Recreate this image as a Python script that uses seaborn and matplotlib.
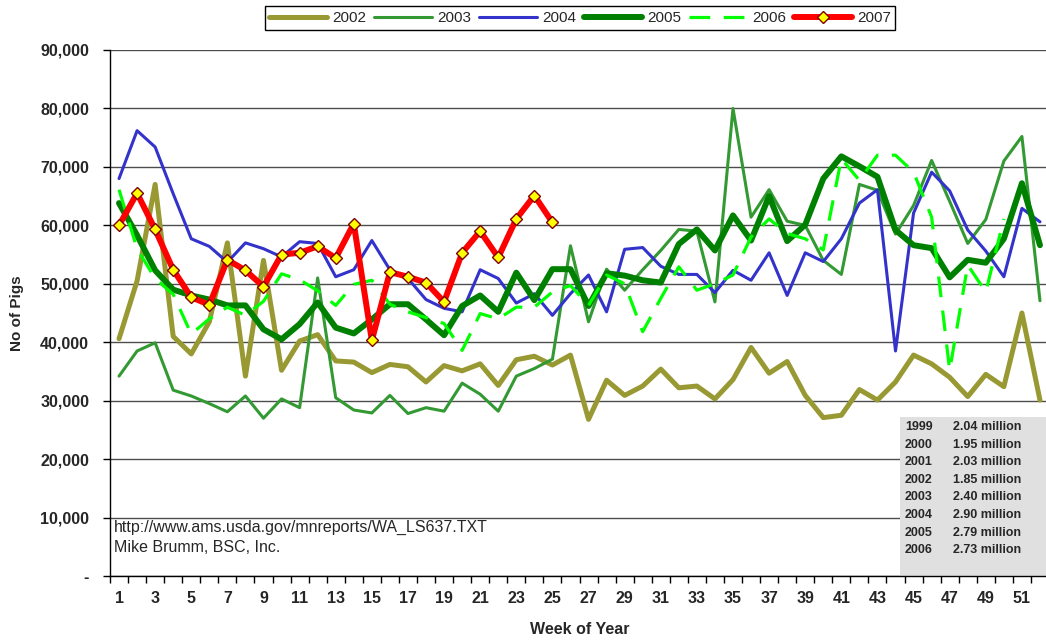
import numpy as np
import pandas as pd
import matplotlib
matplotlib.use("Agg")
import matplotlib.pyplot as plt
from matplotlib.patches import Rectangle
import seaborn as sns

weeks = list(range(1, 53))

y2002 = [40600, 50500, 67000, 41000, 38000, 43500, 57000, 34200, 54000, 35200,
         40200, 41300, 36800, 36600, 34800, 36200, 35800, 33200, 36000, 35100,
         36300, 32600, 37000, 37600, 36100, 37800, 26800, 33500, 30900, 32500,
         35400, 32200, 32500, 30300, 33600, 39100, 34700, 36700, 30900, 27100,
         27500, 31900, 30100, 33200, 37800, 36300, 34000, 30700, 34500, 32400,
         45000, 30100]
y2003 = [34200, 38500, 39900, 31800, 30800, 29500, 28100, 30800, 27000, 30300,
         28800, 51000, 30500, 28400, 27900, 30900, 27800, 28800, 28200, 33000,
         31100, 28200, 34200, 35500, 37100, 56500, 43500, 52500, 48900, 52400,
         55700, 59300, 59000, 46900, 80000, 61400, 66100, 60700, 60000, 54000,
         51600, 67000, 66000, 58500, 63400, 71100, 64100, 56900, 61000, 71000,
         75200, 47100]
y2004 = [68000, 76200, 73400, 65400, 57700, 56400, 53700, 57000, 56000, 54600,
         57200, 56900, 51200, 52400, 57400, 52400, 50900, 47300, 45800, 45200,
         52400, 50900, 46700, 48300, 44600, 48300, 51500, 45200, 55900, 56200,
         53000, 51600, 51600, 48500, 52300, 50600, 55300, 48000, 55300, 53800,
         57700, 63800, 66100, 38500, 62100, 69100, 65900, 59200, 55600, 51200,
         62900, 60600]
y2005 = [63800, 58300, 52300, 49000, 48000, 47300, 46300, 46300, 42200, 40500,
         43100, 46800, 42500, 41500, 43900, 46500, 46500, 43900, 41200, 46200,
         48000, 45200, 51900, 47200, 52500, 52500, 46200, 51800, 51400, 50600,
         50200, 56800, 59300, 55700, 61700, 57400, 65000, 57300, 60100, 68000,
         71800, 70100, 68300, 59200, 56600, 56100, 51100, 54100, 53600, 57700,
         67200, 56600]
y2006 = [66100, 56000, 50900, 48200, 41400, 44000, 46000, 44600, 47000, 51700,
         50700, 48800, 46300, 49900, 50600, 46500, 45200, 44200, 43200, 38600,
         44900, 44000, 46000, 46000, 48600, 49700, 46300, 51500, 50000, 41800,
         47500, 52900, 48900, 50000, 51500, 58000, 61100, 58600, 57700, 55800,
         71400, 67700, 72000, 72000, 69100, 61400, 35200, 53200, 48600, 61100]
y2007 = [60000, 65500, 59300, 52400, 47700, 46400, 54100, 52300, 49500, 55000,
         55300, 56400, 54400, 60300, 40300, 52000, 51200, 50200, 46900, 55300,
         59000, 54500, 61100, 65100, 60500]

series_names = ["2002", "2003", "2004", "2005", "2006", "2007"]
series_values = [y2002, y2003, y2004, y2005, y2006, y2007]

ytick_values = list(range(0, 90001, 10000))
ytick_labels = ["-"] + [f"{v:,}" for v in ytick_values[1:]]
xtick_weeks = list(range(1, 52, 2))

table_years = ["1999", "2000", "2001", "2002", "2003", "2004", "2005", "2006"]
table_totals = ["2.04 million", "1.95 million", "2.03 million", "1.85 million",
                "2.40 million", "2.90 million", "2.79 million", "2.73 million"]

source_lines = ["http://www.ams.usda.gov/mnreports/WA_LS637.TXT",
                "Mike Brumm, BSC, Inc."]

sns.set_style("white")
plt.rcParams['font.family'] = ['Liberation Sans', 'DejaVu Sans']

W, H = 1046, 644
fig = plt.figure(figsize=(W / 100, H / 100), dpi=100)
ax = fig.add_axes([110 / W, 1 - 576 / H, 939 / W, 526 / H])

styles = {
    "2002": dict(color="#999933", linewidth=3.6),
    "2003": dict(color="#339933", linewidth=2.2),
    "2004": dict(color="#3333cc", linewidth=2.2),
    "2005": dict(color="#008000", linewidth=4.3),
    "2006": dict(color="#00ff00", linewidth=2.3, linestyle=(0, (6.5, 4.2))),
    "2007": dict(color="#ff0000", linewidth=4.3, marker="D", markersize=6.5,
                 markerfacecolor="#ffff00", markeredgecolor="#800000",
                 markeredgewidth=1.0),
}

for i, (name, vals) in enumerate(zip(series_names, series_values)):
    df = pd.DataFrame({"week": weeks[:len(vals)], "pigs": vals})
    sns.lineplot(data=df, x="week", y="pigs", ax=ax, label=name,
                 zorder=3 + i, legend=False, **styles[name])

ax.set_xlim(0.5, 52.5)
ax.set_ylim(0, 90000)
ax.set_yticks(ytick_values, labels=ytick_labels)
ax.yaxis.grid(True, color="#4d4d4d", linewidth=1.0)
ax.xaxis.grid(False)
ax.set_axisbelow(True)
ax.set_xlabel("")
ax.set_ylabel("")

ax.set_xticks(np.arange(0.5, 53, 1.0), labels=[""] * 53)
ax.set_xticks(xtick_weeks, labels=[str(w) for w in xtick_weeks], minor=True)
ax.tick_params(axis="x", which="major", length=5, width=1, direction="out",
               color="black", bottom=True)
ax.tick_params(axis="x", which="minor", length=0, pad=11, labelsize=11.5)
ax.tick_params(axis="y", which="major", length=5, width=1, direction="out",
               color="black", left=True, pad=10, labelsize=11.5)
for lab in ax.get_xticklabels(minor=True) + ax.get_yticklabels():
    lab.set_fontweight("bold")

for side in ["top", "right"]:
    ax.spines[side].set_visible(False)
for side in ["left", "bottom"]:
    ax.spines[side].set_color("black")
    ax.spines[side].set_linewidth(1.0)

# grey summary box
ax.add_patch(Rectangle(((900 - 110) / 939, 0), (1049 - 900) / 939, (576 - 417) / 526,
                       transform=ax.transAxes, facecolor="#e0e0e0",
                       edgecolor="none", zorder=1.5))
for k, (yr, tot) in enumerate(zip(table_years, table_totals)):
    yy = 1 - (427 + k * 17.6) / H
    fig.text(905 / W, yy, yr, fontsize=9, fontweight="bold", ha="left", va="center")
    fig.text(953 / W, yy, tot, fontsize=9, fontweight="bold", ha="left", va="center")

# source text
for k, line in enumerate(source_lines):
    fig.text(114 / W, 1 - (527 + k * 20) / H, line, fontsize=11.5, ha="left", va="center")

fig.text(17 / W, 1 - 313 / H, "No of Pigs", rotation=90, fontsize=11,
         fontweight="bold", ha="center", va="center")
fig.text(580 / W, 1 - 629 / H, "Week of Year", fontsize=11.5,
         fontweight="bold", ha="center", va="center")

handles, labels = ax.get_legend_handles_labels()
leg = fig.legend(handles, labels, loc="center", bbox_to_anchor=(580 / W, 1 - 18 / H),
                 ncol=6, frameon=True, fancybox=False, edgecolor="black",
                 framealpha=1, fontsize=11, handlelength=3.8, handletextpad=0.3,
                 columnspacing=0.55, borderpad=0.3, numpoints=1)
leg.get_frame().set_linewidth(1.0)

fig.savefig("out.png", dpi=100)
